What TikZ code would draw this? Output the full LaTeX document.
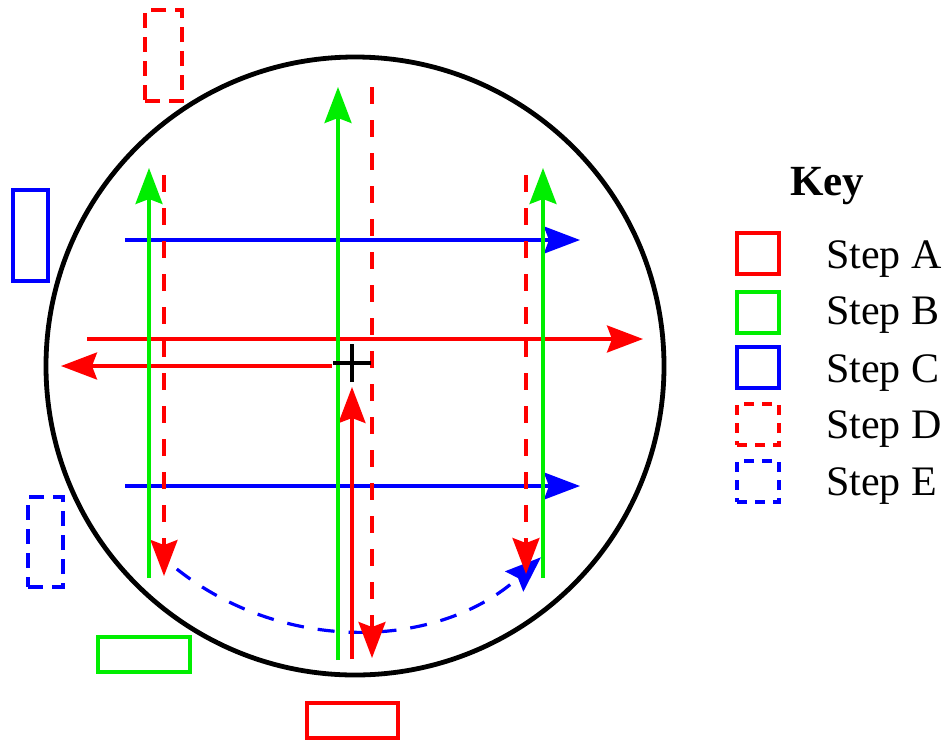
\documentclass[tikz,border=0pt]{standalone}
\usepackage{fontspec}
\setmainfont{Liberation Serif}
\usetikzlibrary{arrows.meta}
\definecolor{kred}{RGB}{255,0,0}
\definecolor{kgreen}{RGB}{0,238,0}
\definecolor{kblue}{RGB}{0,0,255}
\tikzset{
  tip/.style={-{Stealth[length=36pt,width=27pt,inset=5pt]}},
  path/.style={line width=3.2pt},
  dashedpath/.style={line width=3.2pt, dash pattern=on 17pt off 16pt},
  outerbox/.style={draw, line width=3.2pt, inner sep=0pt, outer sep=0pt, rectangle},
  outerdash/.style={outerbox, dash pattern=on 15pt off 9pt},
  keybox/.style={draw, line width=3.2pt, inner sep=0pt, outer sep=0pt, minimum width=42pt, minimum height=41pt},
  keydash/.style={keybox, dash pattern=on 10pt off 8pt},
  keylabel/.style={anchor=base west, inner sep=0pt, font=\fontsize{42}{50}\selectfont},
}
\begin{document}
\begin{tikzpicture}[x=1pt,y=-1pt]
\useasboundingbox (0,0) rectangle (952,740);

% dish
\coordinate (centre) at (355,366);
\draw[line width=4.8pt] (centre) circle[radius=309];

% outer boxes
\node[outerdash, draw=kred, minimum width=37pt, minimum height=91pt] (dtop) at (163.5,55.5) {};
\node[outerbox, draw=kblue, minimum width=35pt, minimum height=91pt] (cleft) at (30.5,235.5) {};
\node[outerdash, draw=kblue, minimum width=35pt, minimum height=90pt] (eleft) at (45.5,542) {};
\node[outerbox, draw=kgreen, minimum width=92pt, minimum height=35pt] (bbottom) at (144,654.5) {};
\node[outerbox, draw=kred, minimum width=91pt, minimum height=35pt] (abottom) at (352.5,720.5) {};

% coordinates
\coordinate (c1s) at (125,240); \coordinate (c1e) at (580,240);
\coordinate (c2s) at (125,486); \coordinate (c2e) at (580,486);
\coordinate (arcstart) at (176.8,569);
\coordinate (a1s) at (87,339); \coordinate (a1e) at (643,339);
\coordinate (a2s) at (332,366); \coordinate (a2e) at (61,366);
\coordinate (a3s) at (352,659); \coordinate (a3e) at (352,387);
\coordinate (d1s) at (164,175); \coordinate (d1e) at (164,576);
\coordinate (d2s) at (372,87); \coordinate (d2e) at (372,658);
\coordinate (d3s) at (526,175); \coordinate (d3e) at (526,574);
\coordinate (b1s) at (149,578); \coordinate (b1e) at (149,168);
\coordinate (b2s) at (338,660); \coordinate (b2e) at (338,87);
\coordinate (b3s) at (543,578); \coordinate (b3e) at (543,168);
\coordinate (cross) at (352,363);

% step C
\draw[path, kblue, tip] (c1s) -- (c1e);
\draw[path, kblue, tip] (c2s) -- (c2e);
% step E
\draw[line width=3.2pt, kblue, dash pattern=on 17pt off 14pt, tip] (arcstart) arc[start angle=128.4, end angle=47.9, radius=282];
% step A
\draw[path, kred, tip] (a1s) -- (a1e);
\draw[path, kred, tip] (a2s) -- (a2e);
\draw[path, kred, tip] (a3s) -- (a3e);
% step D
\draw[dashedpath, kred, tip] (d1s) -- (d1e);
\draw[dashedpath, kred, tip] (d2s) -- (d2e);
\draw[dashedpath, kred, tip] (d3s) -- (d3e);
% step B
\draw[path, kgreen, tip] (b1s) -- (b1e);
\draw[path, kgreen, tip] (b2s) -- (b2e);
\draw[path, kgreen, tip] (b3s) -- (b3e);
% centre cross
\draw[line width=4.5pt] ([xshift=-19pt]cross) -- ([xshift=19pt]cross);
\draw[line width=4.5pt] ([yshift=-19pt]cross) -- ([yshift=19pt]cross);

% key
\node[keylabel, font=\fontsize{43}{50}\selectfont\bfseries] (keytitle) at (790,195) {Key};
\node[keybox, draw=kred] (ka) at (758,253.5) {};
\node[keybox, draw=kgreen] (kb) at (758,312.5) {};
\node[keybox, draw=kblue] (kc) at (758,367.5) {};
\node[keydash, draw=kred] (kd) at (758,424.5) {};
\node[keydash, draw=kblue] (ke) at (758,481.5) {};
\node[keylabel] (la) at (826,268) {Step A};
\node[keylabel] (lb) at (826,324) {Step B};
\node[keylabel] (lc) at (826,382) {Step C};
\node[keylabel] (ld) at (826,438) {Step D};
\node[keylabel] (le) at (826,495) {Step E};
\end{tikzpicture}
\end{document}
